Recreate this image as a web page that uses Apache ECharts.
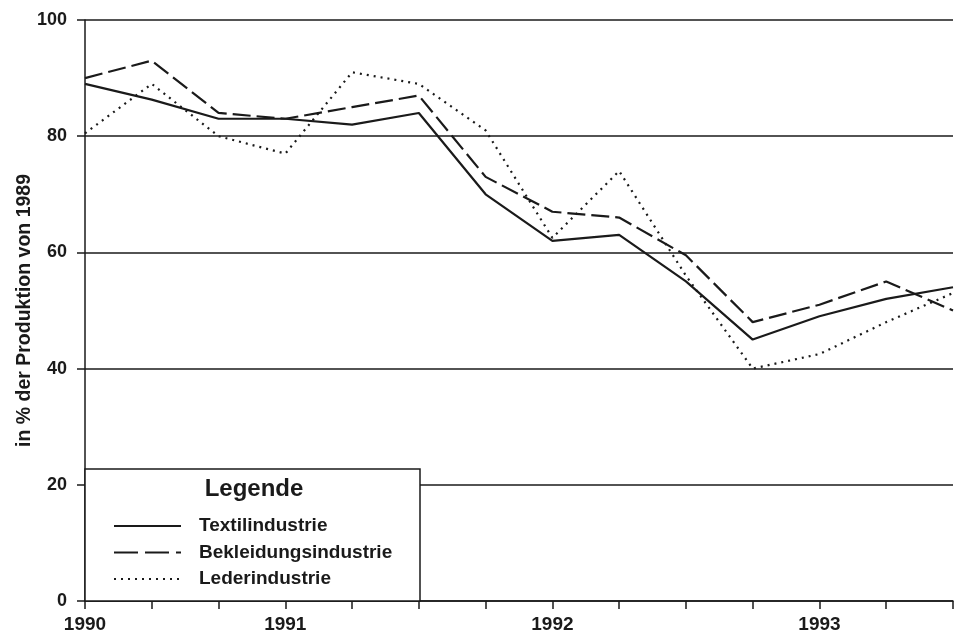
<!DOCTYPE html>
<html>
<head>
<meta charset="utf-8">
<script src="https://cdn.jsdelivr.net/npm/echarts@6/dist/echarts.min.js"></script>
<style>
html,body{margin:0;padding:0;background:#fff;}
#chart{width:957px;height:635px;}
</style>
</head>
<body>
<div id="chart"></div>
<script>
const periods = ['1990','1990.2','1990.3','1991','1991.2','1991.3','1991.4','1992','1992.2','1992.3','1992.4','1993','1993.2','1993.3'];
const tickLabels = ['1990','','','1991','','','','1992','','','','1993','',''];
const textil = [89, 86.3, 83, 83, 82, 84, 70, 62, 63, 55, 45, 49, 52, 54];
const bekleidung = [90, 93, 84, 83, 85, 87, 73, 67, 66, 59.5, 48, 51, 55, 50];
const leder = [80.5, 89, 80, 77, 91, 89, 81, 62.5, 74, 56, 40, 42.5, 48, 53];
const seriesNames = ['Textilindustrie', 'Bekleidungsindustrie', 'Lederindustrie'];
const yTicks = [0, 20, 40, 60, 80, 100];
const yAxisTitle = 'in % der Produktion von 1989';
const legendTitle = 'Legende';

const ink = '#1a1a1a';
const font = '"Liberation Sans", Arial, Helvetica, sans-serif';

const chart = echarts.init(document.getElementById('chart'), null, {renderer: 'canvas'});
chart.setOption({
  backgroundColor: '#fff',
  animation: false,
  grid: {left: 85, right: 4, top: 20, bottom: 34, containLabel: false},
  xAxis: {
    type: 'category',
    data: periods,
    boundaryGap: false,
    axisLine: {lineStyle: {color: ink, width: 1.5}},
    axisTick: {show: true, interval: 0, length: 8, lineStyle: {color: ink, width: 1.5}},
    axisLabel: {
      interval: 0, margin: 14,
      color: ink, fontFamily: font, fontWeight: 'bold', fontSize: 19,
      formatter: (v, i) => tickLabels[i]
    },
    splitLine: {show: false}
  },
  yAxis: {
    type: 'value',
    min: yTicks[0], max: yTicks[yTicks.length - 1], interval: 20,
    name: yAxisTitle,
    nameLocation: 'middle',
    nameGap: 50,
    nameRotate: 90,
    nameMoveOverlap: false,
    nameTextStyle: {color: ink, fontFamily: font, fontWeight: 'bold', fontSize: 19.5},
    axisLine: {show: true, lineStyle: {color: ink, width: 1.5}},
    axisTick: {show: true, length: 8, lineStyle: {color: ink, width: 1.5}},
    axisLabel: {margin: 18, color: ink, fontFamily: font, fontWeight: 'bold', fontSize: 18},
    splitLine: {show: true, lineStyle: {color: ink, width: 1.5}}
  },
  legend: {
    show: true,
    orient: 'vertical',
    left: 108,
    top: 511,
    z: 60,
    itemWidth: 67,
    itemHeight: 14,
    itemGap: 6.5,
    itemStyle: {opacity: 0},
    textStyle: {color: ink, fontFamily: font, fontWeight: 'bold', fontSize: 19, lineHeight: 20, padding: [0, 0, 0, 13]},
    data: [
      {name: seriesNames[0]},
      {name: seriesNames[1], lineStyle: {type: [24, 7]}},
      {name: seriesNames[2], lineStyle: {type: [2, 5]}}
    ]
  },
  graphic: [
    {
      type: 'rect', z: 50,
      shape: {x: 85, y: 469, width: 335, height: 132},
      style: {fill: '#fff', stroke: ink, lineWidth: 1.5}
    },
    {
      type: 'text', z: 60,
      x: 254, y: 489,
      style: {text: legendTitle, fill: ink, font: 'bold 24px ' + font, textAlign: 'center', textVerticalAlign: 'middle'}
    }
  ],
  series: [
    {
      name: seriesNames[0], type: 'line', data: textil,
      symbol: 'none', itemStyle: {color: ink},
      lineStyle: {color: ink, width: 2.2, type: 'solid'}
    },
    {
      name: seriesNames[1], type: 'line', data: bekleidung,
      symbol: 'none', itemStyle: {color: ink},
      lineStyle: {color: ink, width: 2.2, type: [18, 6]}
    },
    {
      name: seriesNames[2], type: 'line', data: leder,
      symbol: 'none', itemStyle: {color: ink},
      lineStyle: {color: ink, width: 2.2, type: [2, 5]}
    }
  ]
});
</script>
</body>
</html>
